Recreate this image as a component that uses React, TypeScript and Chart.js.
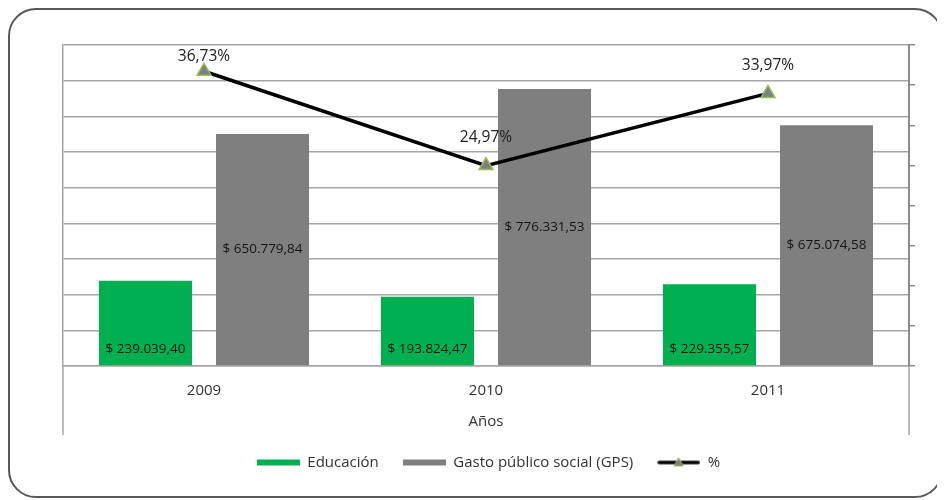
import React, { useEffect, useRef } from "react";
import { Chart, registerables } from "chart.js";

Chart.register(...registerables);

const years = ["2009", "2010", "2011"];
const educacion = [239039.4, 193824.47, 229355.57];
const gps = [650779.84, 776331.53, 675074.58];
const porcentaje = [36.73, 24.97, 33.97];
const seriesNames = ["Educación", "Gasto público social (GPS)", "%"];
const xTitle = "Años";
const leftMax = 900000;
const leftStep = 100000;
const rightMax = 40;
const rightStep = 5;

const FONT = '"Open Sans", "Noto Sans", sans-serif';
const GREEN = "#00B050";
const GREY = "#7F7F7F";
const GRID = "#A6A6A6";
const TEXT = "#333333";

function fmtMoney(v: number): string {
  const [i, d] = v.toFixed(2).split(".");
  return "$ " + i.replace(/\B(?=(\d{3})+(?!\d))/g, ".") + "," + d;
}
function fmtPct(v: number): string {
  return v.toFixed(2).replace(".", ",") + "%";
}

function boxIcon(color: string) {
  const c = document.createElement("canvas");
  c.width = 43;
  c.height = 8;
  const g = c.getContext("2d")!;
  g.fillStyle = color;
  g.fillRect(0, 1, 43, 6);
  return c;
}
function lineIcon() {
  const c = document.createElement("canvas");
  c.width = 43;
  c.height = 12;
  const g = c.getContext("2d")!;
  g.strokeStyle = "#000";
  g.lineWidth = 3.5;
  g.lineCap = "round";
  g.beginPath();
  g.moveTo(2, 6);
  g.lineTo(41, 6);
  g.stroke();
  g.beginPath();
  g.moveTo(21.5, 1.5);
  g.lineTo(26, 9.5);
  g.lineTo(17, 9.5);
  g.closePath();
  g.fillStyle = GREY;
  g.fill();
  g.strokeStyle = "#9BBB59";
  g.lineWidth = 1;
  g.stroke();
  return c;
}

const extras = {
  id: "extras",
  afterDraw(chart: any) {
    const { ctx, chartArea } = chart;
    const { left, right, bottom } = chartArea;
    ctx.save();
    ctx.strokeStyle = GRID;
    ctx.lineWidth = 1.5;
    ctx.beginPath();
    ctx.moveTo(left, bottom);
    ctx.lineTo(left, bottom + 69);
    ctx.moveTo(right, bottom);
    ctx.lineTo(right, bottom + 69);
    ctx.stroke();
    ctx.restore();
  },
  afterDatasetsDraw(chart: any) {
    const { ctx, chartArea } = chart;
    ctx.save();
    ctx.textAlign = "center";
    ctx.textBaseline = "middle";
    ctx.font = `13.5px ${FONT}`;
    ctx.fillStyle = "#141414";
    chart.getDatasetMeta(0).data.forEach((b: any, i: number) => {
      ctx.fillText(fmtMoney(educacion[i]), b.x, b.base - 16);
    });
    chart.getDatasetMeta(1).data.forEach((b: any, i: number) => {
      ctx.fillText(fmtMoney(gps[i]), b.x, (b.y + b.base) / 2);
    });
    ctx.font = `15.5px ${FONT}`;
    ctx.fillStyle = "#222222";
    chart.getDatasetMeta(2).data.forEach((p: any, i: number) => {
      const y = Math.max(p.y - 28, chartArea.top + 12);
      ctx.fillText(fmtPct(porcentaje[i]), p.x, y);
    });
    ctx.restore();
  },
};

export default function App() {
  const ref = useRef<HTMLCanvasElement>(null);
  useEffect(() => {
    const icons = [boxIcon(GREEN), boxIcon(GREY), lineIcon()];
    const chart = new Chart(ref.current!, {
      type: "bar",
      data: {
        labels: years,
        datasets: [
          {
            type: "bar",
            label: seriesNames[0],
            data: educacion,
            backgroundColor: GREEN,
            yAxisID: "y",
            order: 1,
            categoryPercentage: 0.83,
            barPercentage: 0.795,
          },
          {
            type: "bar",
            label: seriesNames[1],
            data: gps,
            backgroundColor: GREY,
            yAxisID: "y",
            order: 1,
            categoryPercentage: 0.83,
            barPercentage: 0.795,
          },
          {
            type: "line",
            label: seriesNames[2],
            data: porcentaje,
            borderColor: "#000",
            borderWidth: 3.5,
            pointStyle: "triangle",
            pointRadius: 8,
            pointBackgroundColor: GREY,
            pointBorderColor: "#9BBB59",
            pointBorderWidth: 1.5,
            yAxisID: "y1",
            order: 0,
          } as any,
        ],
      },
      options: {
        animation: false,
        responsive: false,
        layout: { padding: { top: 45, left: 32, right: 0, bottom: 20 } },
        plugins: {
          tooltip: { enabled: false },
          legend: {
            position: "bottom",
            labels: {
              usePointStyle: true,
              pointStyleWidth: 43,
              boxHeight: 10,
              padding: 24,
              color: TEXT,
              font: { family: FONT, size: 15 },
              generateLabels: () =>
                seriesNames.map((t, i) => ({
                  text: t,
                  pointStyle: icons[i],
                  fillStyle: "transparent",
                  strokeStyle: "transparent",
                  lineWidth: 0,
                  hidden: false,
                  datasetIndex: i,
                  fontColor: TEXT,
                })) as any,
            },
          },
        },
        scales: {
          x: {
            grid: { display: false, drawTicks: false },
            border: { display: true, color: GRID, width: 1.5 },
            ticks: { color: TEXT, font: { family: FONT, size: 15 }, padding: 16 },
            title: {
              display: true,
              text: xTitle,
              color: TEXT,
              font: { family: FONT, size: 15 },
              padding: { top: 4, bottom: 0 },
            },
            afterFit: (s: any) => {
              s.height = 65;
            },
          },
          y: {
            position: "left",
            min: 0,
            max: leftMax,
            ticks: { display: false, stepSize: leftStep },
            grid: { color: GRID, lineWidth: 1.5, drawTicks: false },
            border: { display: true, color: GRID, width: 1.5 },
            afterFit: (s: any) => {
              s.width = 31;
            },
          },
          y1: {
            position: "right",
            min: 0,
            max: rightMax,
            ticks: { display: false, stepSize: rightStep },
            grid: {
              drawOnChartArea: false,
              drawTicks: true,
              tickLength: 6,
              color: "#8C8C8C",
              lineWidth: 1.5,
            },
            border: { display: true, color: "#8C8C8C", width: 2 },
            afterFit: (s: any) => {
              s.width = 36;
            },
          },
        },
      },
      plugins: [extras],
    });
    return () => chart.destroy();
  }, []);

  return (
    <div style={{ position: "relative", width: 935, height: 490 }}>
      <div
        style={{
          position: "absolute",
          left: 0,
          top: 0,
          width: 935,
          height: 490,
          border: "2px solid #595959",
          borderRadius: 28,
          boxSizing: "border-box",
        }}
      />
      <canvas
        ref={ref}
        width={945}
        height={500}
        style={{ position: "absolute", left: -8, top: -8, width: 945, height: 500 }}
      />
    </div>
  );
}
